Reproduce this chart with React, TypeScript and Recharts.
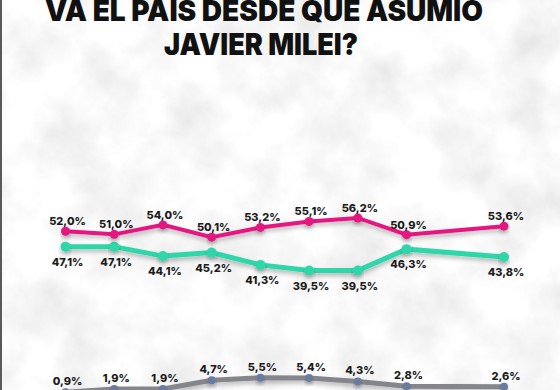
import { LineChart, Line, XAxis, YAxis, LabelList } from "recharts";

const categories = ["Dic", "Ene", "Feb", "Mar", "Abr", "May", "Jun", "Jul", "Ago", "Sep"];
const malValues = [52.0, 51.0, 54.0, 50.1, 53.2, 55.1, 56.2, 50.9, null, 53.6];
const bienValues = [47.1, 47.1, 44.1, 45.2, 41.3, 39.5, 39.5, 46.3, null, 43.8];
const nsncValues = [0.9, 1.9, 1.9, 4.7, 5.5, 5.4, 4.3, 2.8, null, 2.6];
const titleLines = ["VA EL PAÍS DESDE QUE ASUMIÓ", "JAVIER MILEI?"];

const data = categories.map((c, i) => ({
    periodo: c,
    mal: malValues[i],
    bien: bienValues[i],
    nsnc: nsncValues[i],
}));

const fmt = (v: number) => v.toFixed(1).replace(".", ",") + "%";

function makeLabel(dy: number) {
    return (props: any) => {
        const { x, y, value } = props;
        if (value == null) return null;
        return (
            <text
                x={x + 2}
                y={y + dy}
                textAnchor="middle"
                fontFamily="Inter, sans-serif"
                fontWeight={800}
                fontSize={11}
                fill="#1c1c1c"
            >
                {fmt(value)}
            </text>
        );
    };
}

export default function App() {
    return (
        <div style={{ position: "fixed", left: 0, top: 0, width: 560, height: 390, overflow: "hidden", background: "#f3f3f3" }}>
            <svg width={560} height={390} style={{ position: "absolute", left: 0, top: 0 }}>
                <defs>
                    <filter id="tex" x="0" y="0" width="100%" height="100%">
                        <feTurbulence type="fractalNoise" baseFrequency="0.018" numOctaves="5" seed="7" />
                        <feColorMatrix type="matrix" values="0.4 0 0 0 0.75  0.4 0 0 0 0.75  0.4 0 0 0 0.75  0 0 0 0 1" />
                    </filter>
                </defs>
                <rect x={0} y={0} width={560} height={390} filter="url(#tex)" />
                <rect x={0} y={0} width={2} height={390} fill="#5a5a5a" />
                <text x={264} y={21} textAnchor="middle" fontFamily="Inter, sans-serif" fontWeight={900} fontSize={29}
                    textLength={438} lengthAdjust="spacingAndGlyphs" fill="#111">
                    {titleLines[0]}
                </text>
                <text x={261} y={55} textAnchor="middle" fontFamily="Inter, sans-serif" fontWeight={900} fontSize={30}
                    textLength={194} lengthAdjust="spacingAndGlyphs" fill="#111">
                    {titleLines[1]}
                </text>
            </svg>
            <div style={{ position: "absolute", left: 0, top: 0 }}>
                <LineChart width={560} height={420} data={data} margin={{ top: 80, right: 56, bottom: 25, left: 65.5 }}>
                    <defs>
                        <filter id="sh" x="-10%" y="-50%" width="120%" height="200%">
                            <feDropShadow dx="0" dy="3" stdDeviation="2" floodColor="#000" floodOpacity="0.25" />
                        </filter>
                    </defs>
                    <XAxis dataKey="periodo" hide />
                    <YAxis domain={[0, 100]} hide />
                    <Line
                        dataKey="nsnc"
                        stroke="#85868c"
                        strokeWidth={5}
                        connectNulls
                        filter="url(#sh)"
                        dot={{ r: 4, fill: "#6b7b9e", stroke: "none" }}
                        isAnimationActive={false}
                    >
                        <LabelList dataKey="nsnc" content={makeLabel(-7)} />
                    </Line>
                    <Line
                        dataKey="bien"
                        stroke="#2fd6a9"
                        strokeWidth={5}
                        connectNulls
                        filter="url(#sh)"
                        dot={{ r: 5, fill: "#2fd6a9", stroke: "none" }}
                        isAnimationActive={false}
                    >
                        <LabelList dataKey="bien" content={makeLabel(19)} />
                    </Line>
                    <Line
                        dataKey="mal"
                        stroke="#e5167f"
                        strokeWidth={4}
                        connectNulls
                        filter="url(#sh)"
                        dot={{ r: 4.5, fill: "#e5167f", stroke: "none" }}
                        isAnimationActive={false}
                    >
                        <LabelList dataKey="mal" content={makeLabel(-6)} />
                    </Line>
                </LineChart>
            </div>
        </div>
    );
}
